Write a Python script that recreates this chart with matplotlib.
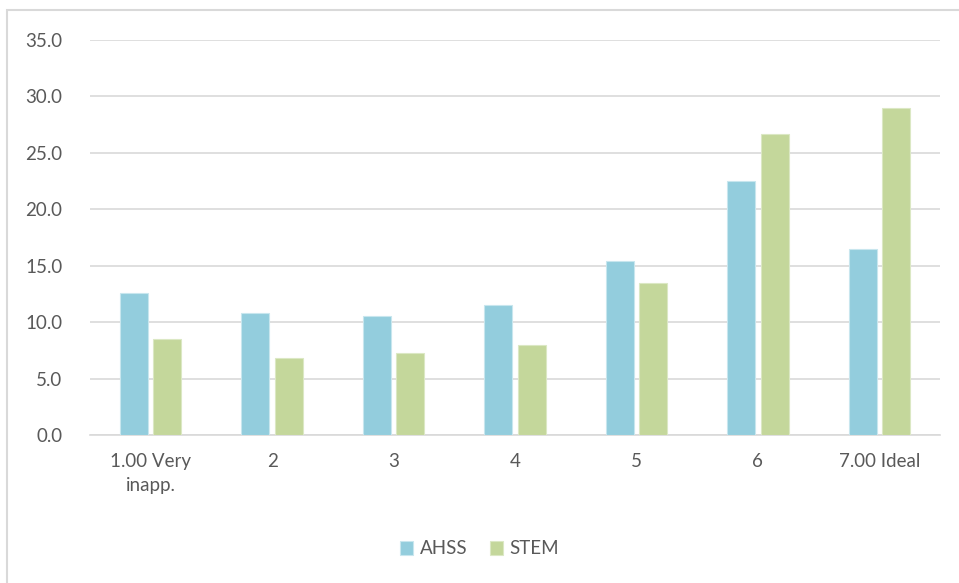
import numpy as np
import matplotlib.pyplot as plt
from matplotlib.patches import Rectangle

# Data
categories = ['1.00 Very\ninapp.', '2', '3', '4', '5', '6', '7.00 Ideal']
ahss = [12.6, 10.8, 10.55, 11.5, 15.45, 22.5, 16.5]
stem = [8.5, 6.8, 7.3, 7.95, 13.5, 26.7, 28.95]
yticks = [0, 5, 10, 15, 20, 25, 30, 35]

plt.rcParams['font.family'] = ['Lato', 'DejaVu Sans']
text_color = '#595959'

fig = plt.figure(figsize=(9.59, 5.83), dpi=100)
ax = fig.add_axes([90 / 959, 1 - 435 / 583, 850 / 959, 395 / 583])

x = np.arange(len(categories))
w = 0.23
gap = 0.045
ax.bar(x - (w + gap) / 2, ahss, w, color='#93CDDD', edgecolor='#c8e6ee', linewidth=0.8,
       label='AHSS', zorder=3)
ax.bar(x + (w + gap) / 2, stem, w, color='#C4D79B', edgecolor='#dbe8c4', linewidth=0.8,
       label='STEM', zorder=3)

ax.set_xlim(-0.5, len(categories) - 0.5)
ax.set_ylim(0, 35)
ax.set_yticks(yticks)
ax.set_yticklabels([f'{v:.1f}' for v in yticks])
ax.set_xticks(x)
ax.set_xticklabels(categories, linespacing=1.5)
ax.yaxis.grid(True, color='#d9d9d9', linewidth=1.2, zorder=0)
ax.tick_params(axis='both', length=0, labelsize=13.5, colors=text_color)
ax.tick_params(axis='x', pad=13)
ax.tick_params(axis='y', pad=20)
for s in ['top', 'right', 'left']:
    ax.spines[s].set_visible(False)
ax.spines['bottom'].set_color('#d9d9d9')
ax.spines['bottom'].set_linewidth(1.2)

leg = fig.legend(loc='center', bbox_to_anchor=(0.5, 1 - 549 / 583), ncol=2, frameon=False,
                 fontsize=13.5, handlelength=0.7, handleheight=0.7, handletextpad=0.35,
                 columnspacing=1.2)
for t in leg.get_texts():
    t.set_color(text_color)

# outer chart border (only top and left visible in the crop)
fig.patches.append(Rectangle((7 / 959, -0.1), 1.2, 1.1 - 10 / 583, transform=fig.transFigure,
                             fill=False, edgecolor='#d9d9d9', linewidth=1.5))

fig.savefig('out.png', dpi=100)
